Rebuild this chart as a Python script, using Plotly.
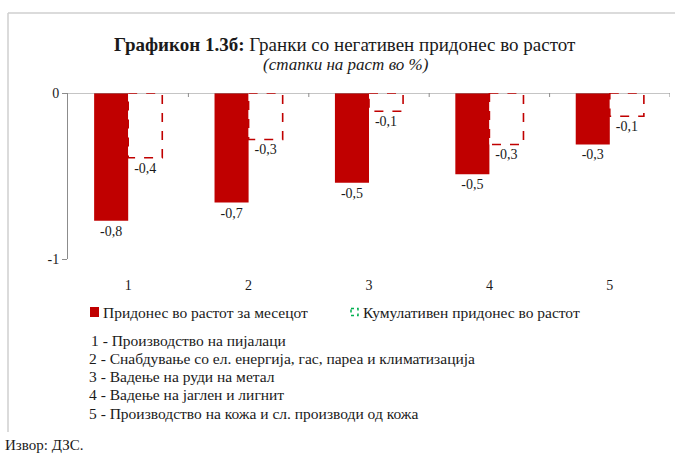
import plotly.graph_objects as go

categories = [1, 2, 3, 4, 5]
monthly = [-0.77, -0.66, -0.54, -0.49, -0.31]
cumulative = [-0.39, -0.28, -0.11, -0.31, -0.14]
series_names = ["Придонес во растот за месецот", "Кумулативен придонес во растот"]
notes = [
    "1 - Производство на пијалаци",
    "2 - Снабдување со ел. енергија, гас, пареа и климатизација",
    "3 - Вадење на руди на метал",
    "4 - Вадење на јаглен и лигнит",
    "5 - Производство на кожа и сл. производи од кожа",
]
y_ticks = [0, -1]

W, H = 675, 454
L, R, T, B = 68, 5, 93, 195
PW, PH = W - L - R, H - T - B
RED = "#C00000"
FONT = "Liberation Serif"
TXT = "#1a1a1a"


def px(x):
    return (x - L) / PW


def py(y):
    return (H - B - y) / PH


BW = 0.283  # bar width in category units

fig = go.Figure()
fig.add_trace(go.Bar(
    x=categories, y=monthly, name=series_names[0],
    width=BW, offset=-BW,
    marker=dict(color=RED, line=dict(width=0)),
    texttemplate="%{y:.1f}", textposition="outside",
    textfont=dict(family=FONT, size=14, color=TXT),
    cliponaxis=False, showlegend=False,
))
fig.add_trace(go.Bar(
    x=categories, y=cumulative, name=series_names[1],
    width=BW, offset=0,
    marker=dict(color="white", line=dict(width=0)),
    texttemplate="%{y:.1f}", textposition="outside",
    textfont=dict(family=FONT, size=14, color=TXT),
    cliponaxis=False, showlegend=False,
))

shapes = []
# frame
shapes.append(dict(type="line", xref="paper", yref="paper", x0=px(8), x1=px(675), y0=py(13), y1=py(13),
                   line=dict(color="#cfcfcf", width=1.5)))
shapes.append(dict(type="line", xref="paper", yref="paper", x0=px(8), x1=px(8), y0=py(13), y1=py(432),
                   line=dict(color="#cfcfcf", width=1.5)))
# zero axis line with ticks between categories
shapes.append(dict(type="line", xref="x", yref="y", x0=0.5, x1=5.5, y0=0, y1=0,
                   line=dict(color="#8c8c8c", width=1)))
for c in categories:
    shapes.append(dict(type="line", xref="x", yref="y", x0=c + 0.5, x1=c + 0.5, y0=0, y1=-4 / PH,
                       line=dict(color="#8c8c8c", width=1)))
# dashed outlines for cumulative bars
for c, v in zip(categories, cumulative):
    shapes.append(dict(type="rect", xref="x", yref="y", x0=c, x1=c + BW, y0=0, y1=v,
                       line=dict(color=RED, width=1.6, dash="dash"), fillcolor="rgba(0,0,0,0)"))
# legend icons
shapes.append(dict(type="rect", xref="paper", yref="paper", x0=px(90), x1=px(99), y0=py(307), y1=py(317),
                   fillcolor=RED, line=dict(width=0)))
shapes.append(dict(type="rect", xref="paper", yref="paper", x0=px(351), x1=px(358), y0=py(308.5), y1=py(315.5),
                   fillcolor="rgba(0,0,0,0)", line=dict(color="#00B050", width=1.5, dash="dot")))

annotations = [
    dict(text="<b>Графикон 1.3б:</b> Гранки со негативен придонес во растот",
         xref="paper", yref="paper", x=px(345), y=py(44), xanchor="center", yanchor="middle",
         showarrow=False, font=dict(family=FONT, size=19, color=TXT)),
    dict(text="<i>(стапки на раст во %)</i>",
         xref="paper", yref="paper", x=px(346), y=py(65), xanchor="center", yanchor="middle",
         showarrow=False, font=dict(family=FONT, size=17, color=TXT)),
    dict(text=series_names[0], xref="paper", yref="paper", x=px(101), y=py(312),
         xanchor="left", yanchor="middle", showarrow=False, font=dict(family=FONT, size=15.5, color=TXT)),
    dict(text=series_names[1], xref="paper", yref="paper", x=px(361), y=py(312),
         xanchor="left", yanchor="middle", showarrow=False, font=dict(family=FONT, size=15.5, color=TXT)),
    dict(text="Извор: ДЗС.", xref="paper", yref="paper", x=px(3), y=py(445),
         xanchor="left", yanchor="middle", showarrow=False, font=dict(family=FONT, size=15, color=TXT)),
]
for i, note in enumerate(notes):
    annotations.append(dict(
        text=note, xref="paper", yref="paper", x=px(89 if i == 0 else 87), y=py(340 + 18.3 * i),
        xanchor="left", yanchor="middle", showarrow=False, font=dict(family=FONT, size=15.5, color=TXT)))

fig.update_layout(
    width=W, height=H,
    margin=dict(l=L, r=R, t=T, b=B),
    paper_bgcolor="white", plot_bgcolor="white",
    separators=", ",
    barmode="group",
    xaxis=dict(range=[0.5, 5.5], tickvals=categories, ticktext=[str(c) for c in categories],
               showgrid=False, zeroline=False, showline=False, ticks="",
               ticklabelstandoff=16, tickfont=dict(family=FONT, size=14, color=TXT), fixedrange=True),
    yaxis=dict(range=[-1, 0], tickvals=y_ticks, ticktext=[str(t) for t in y_ticks],
               showgrid=False, zeroline=False, showline=True, linecolor="#8c8c8c", linewidth=1,
               ticks="outside", ticklen=5, tickcolor="#8c8c8c",
               tickfont=dict(family=FONT, size=14, color=TXT), fixedrange=True),
    shapes=shapes, annotations=annotations,
)

fig.write_html("out.html", config={"displayModeBar": False},
               post_script="document.body.style.margin='0';document.body.style.padding='0';")
